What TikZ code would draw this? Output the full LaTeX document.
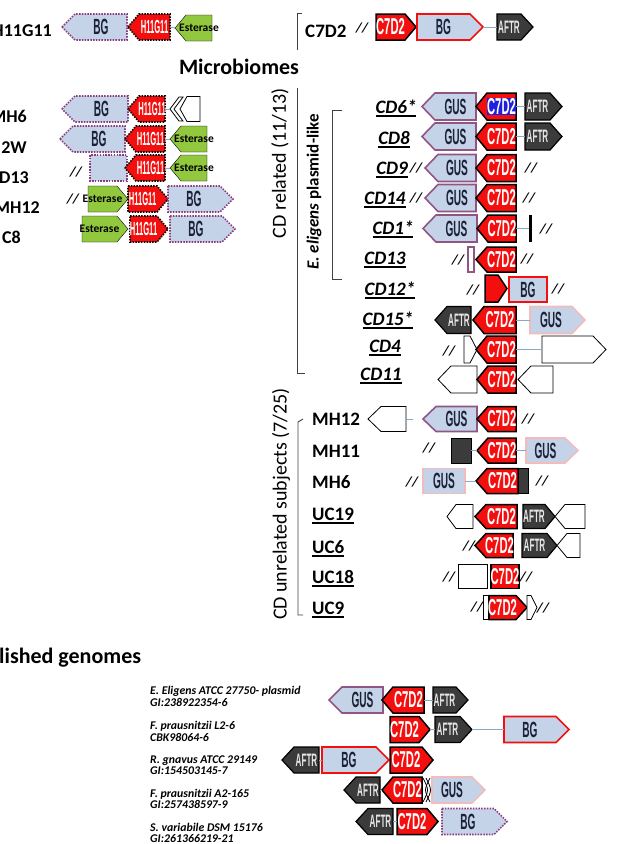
\documentclass[tikz,border=0pt]{standalone}
\usepackage{fontspec}
\setmainfont{Carlito}
\newfontfamily\genefont{Liberation Sans}
\definecolor{bgfill}{HTML}{C5D3E9}
\definecolor{cred}{HTML}{F40F0F}
\definecolor{dgray}{HTML}{3B3B3B}
\definecolor{egreen}{HTML}{92C83E}
\definecolor{purp}{HTML}{8A3C7C}
\definecolor{gusb}{HTML}{915584}
\definecolor{pinkb}{HTML}{F2BCBC}
\definecolor{navy}{HTML}{1B2238}
\definecolor{connc}{HTML}{86A9C6}
\definecolor{hlblue}{HTML}{1F1FE0}
\definecolor{aftrt}{HTML}{E6E6E6}
\definecolor{brk}{HTML}{404040}
\def\gsc{0.6}
\def\hh{13}
\newcommand\ul[1]{\leavevmode\vtop{\hbox{#1}\kern2.2pt\hrule height 1.3pt}}
% left-pointing gene: [tip]{name}{x1}{x2}{y}{style}{text}
\newcommand\gL[7][11]{%
  \draw[#6] (#3,#5) -- ({#3+#1},{#5-\hh}) -- (#4,{#5-\hh}) -- (#4,{#5+\hh}) -- ({#3+#1},{#5+\hh}) -- cycle;
  \node[gtext,#6T,minimum width={#4-#3},minimum height={2*\hh}] (#2) at ({(#3+#4)/2},#5) {\makebox[0pt]{\hspace*{#1pt}\scalebox{\gsc}[1]{#7}}};}
% right-pointing gene
\newcommand\gR[7][11]{%
  \draw[#6] (#3,{#5-\hh}) -- ({#4-#1},{#5-\hh}) -- (#4,#5) -- ({#4-#1},{#5+\hh}) -- (#3,{#5+\hh}) -- cycle;
  \node[gtext,#6T,minimum width={#4-#3},minimum height={2*\hh}] (#2) at ({(#3+#4)/2},#5) {\makebox[0pt]{\scalebox{\gsc}[1]{#7}\hspace*{#1pt}}};}
% rectangular gene
\newcommand\gN[6]{%
  \draw[#5] (#2,{#4-\hh}) rectangle (#3,{#4+\hh});
  \node[gtext,#5T,minimum width={#3-#2},minimum height={2*\hh}] (#1) at ({(#2+#3)/2},#4) {\makebox[0pt]{\scalebox{\gsc}[1]{#6}}};}
\tikzset{
  gtext/.style={inner sep=0pt, outer sep=0pt, font=\genefont\bfseries\fontsize{22}{22}\selectfont, /utils/exec={\def\gsc{0.46}}},
  bgdot/.style={fill=bgfill, draw=purp, line width=1.6pt, dash pattern=on 1.5pt off 1.3pt},
  bgdotT/.style={text=navy},
  bgred/.style={fill=bgfill, draw=cred, line width=1.6pt},
  bgredT/.style={text=navy},
  gus/.style={fill=bgfill, draw=gusb, line width=1.6pt},
  gusT/.style={text=navy},
  guspink/.style={fill=bgfill, draw=pinkb, line width=1.6pt},
  guspinkT/.style={text=navy},
  hdot/.style={fill=cred, draw=black, line width=1.6pt, dash pattern=on 1.5pt off 1.3pt},
  hdotT/.style={text=white, font=\genefont\bfseries\fontsize{19}{19}\selectfont, /utils/exec={\def\gsc{0.4}}},
  cr/.style={fill=cred, draw=black, line width=1.5pt},
  crT/.style={text=white, font=\genefont\bfseries\fontsize{23}{23}\selectfont, /utils/exec={\def\gsc{0.49}}},
  est/.style={fill=egreen},
  estT/.style={text=black, font=\bfseries\fontsize{11.5}{11.5}\selectfont, /utils/exec={\def\gsc{1}}},
  aftr/.style={fill=dgray, draw=black, line width=1.2pt},
  aftrT/.style={text=aftrt, font=\genefont\bfseries\fontsize{18}{18}\selectfont, /utils/exec={\def\gsc{0.45}}},
  wgene/.style={fill=white, draw=black, line width=0.8pt},
  wgeneT/.style={},
  wbox/.style={fill=white, draw=black, line width=0.8pt},
  wboxT/.style={},
  dbox/.style={fill=dgray, draw=black, line width=1pt},
  dboxT/.style={},
  purpbox/.style={fill=white, draw=gusb, line width=1.4pt},
  purpboxT/.style={},
  labL/.style={font=\bfseries\fontsize{18}{18}\selectfont, inner sep=0pt, anchor=base east},
  labR/.style={font=\bfseries\fontsize{19}{19}\selectfont, inner sep=0pt, anchor=base west},
  labCD/.style={font=\bfseries\itshape\fontsize{19}{19}\selectfont, inner sep=0pt, anchor=base},
  slash/.style={font=\bfseries\itshape\fontsize{14}{14}\selectfont, inner sep=0pt},
  publab/.style={font=\bfseries\itshape\fontsize{11.8}{11.8}\selectfont, inner sep=0pt, anchor=base west},
  head/.style={font=\bfseries\fontsize{22}{22}\selectfont, inner sep=0pt},
  vlab/.style={rotate=90, font=\fontsize{20}{20}\selectfont, inner sep=0pt},
  conn/.style={draw=connc, line width=0.9pt},
  brack/.style={draw=brk, line width=0.9pt},
}
\begin{document}
\begin{tikzpicture}[x=1pt,y=-1pt]
\useasboundingbox (0,0) rectangle (620,844);
% ---------------- top left
\node[labL] (lH) at (52,36) {H11G11};
\gL[13]{tBG}{62}{127}{27}{bgdot}{BG}
\gL{tH}{128}{170}{27}{hdot}{H11G11}
\gL{tE}{175}{212}{28}{est}{Esterase}
\draw[conn] (tH.east) -- (tE.west);
% ---------------- left rows
\node[labL] (lMH6) at (27,122) {MH6};
\gL[13]{aBG}{62}{128}{109}{bgdot}{BG}
\gL{aH}{128}{165}{109}{hdot}{H11G11}
\draw[wgene] (170,109) -- (179,97) -- (183,97) -- (174,109) -- (183,121) -- (179,121) -- cycle;
\coordinate (aCh) at (170,109);
\def\hh{12.5}
\gL[7]{aW}{180}{200}{109}{wgene}{}
\def\hh{13}
\draw[conn] (aH.east) -- (aCh);

\node[labL] (l2W) at (27,153) {2W};
\gL[13]{bBG}{60}{125}{139}{bgdot}{BG}
\gL{bH}{125}{165}{139}{hdot}{H11G11}
\gL{bE}{170}{207}{139}{est}{Esterase}
\draw[conn] (bH.east) -- (bE.west);

\node[labL] (lD13) at (29,183) {D13};
\node[slash] (sD13) at (76,172) {//};
\gN{cBG}{90}{127}{168}{bgdot}{}
\gL{cH}{125}{165}{168}{hdot}{H11G11}
\gL{cE}{170}{207}{168}{est}{Esterase}
\draw[conn] (cH.east) -- (cE.west);

\node[labL] (lMH12) at (40,213) {MH12};
\node[slash] (sMH12) at (73,199) {//};
\gR{dE}{88}{128}{199}{est}{Esterase}
\gR{dH}{128}{168}{199}{hdot}{H11G11}
\gR[13]{dBG}{168}{233}{199}{bgdot}{BG}

\node[labL] (lC8) at (21,243) {C8};
\gR{eE}{82}{128}{229}{est}{Esterase}
\gR{eH}{130}{168}{229}{hdot}{H11G11}
\gR[13]{eBG}{170}{235}{229}{bgdot}{BG}

% ---------------- top right
\draw[brack] (302,13) -- (297,13) -- (297,50);
\node[labR] (lC7) at (305,37) {C7D2};
\node[slash] (sC7) at (362,28) {//};
\gR{rC}{376}{416}{27}{cr}{C7D2}
\gR[13]{rBG}{417}{483}{27}{bgred}{BG}
\gR[12]{rA}{497}{533}{27}{aftr}{AFTR}
\draw[conn] (rBG.east) -- (rA.west);

\node[head] (hMicro) at (239,67) {Microbiomes};

% ---------------- brackets & vertical labels
\draw[brack] (297,88) -- (297,373) -- (305,373);
\node[vlab] (vCD) at (280,163) {CD related (11/13)};
\draw[brack] (342,110) -- (332,110) -- (332,279) -- (342,279);
\node[vlab, font=\bfseries\fontsize{17}{17}\selectfont] (vEel) at (314,192) {\textit{E. eligens} plasmid-like};
\draw[brack] (303,419) -- (298,422) -- (298,615) -- (303,615);
\node[vlab] (vUn) at (281,504) {CD unrelated subjects (7/25)};

% ---------------- CD rows
\def\hh{13.5}
\node[labCD] (lCD6) at (396,113) {\ul{CD6*}};
\gL[13]{g6G}{422}{476}{106.5}{gus}{GUS}
\gL{g6C}{476}{516}{106.5}{cr}{{\setlength{\fboxsep}{0.6pt}\colorbox{hlblue}{C7D2}}}
\gR[12]{g6A}{525}{562}{106.5}{aftr}{AFTR}
\draw[conn] (g6C.east) -- (g6A.west);

\node[labCD] (lCD8) at (394,144) {\ul{CD8}};
\gL[13]{g8G}{422}{476}{136.5}{gus}{GUS}
\gL{g8C}{476}{516}{136.5}{cr}{C7D2}
\gR[12]{g8A}{525}{562}{136.5}{aftr}{AFTR}
\draw[conn] (g8C.east) -- (g8A.west);

\node[labCD] (lCD9) at (392,174) {\ul{CD9}};
\node[slash] (sCD9a) at (416,168) {//};
\gL[13]{g9G}{425}{476}{168}{gus}{GUS}
\gL{g9C}{476}{516}{168}{cr}{C7D2}
\node[slash] (sCD9b) at (531,168) {//};

\node[labCD] (lCD14) at (385,204) {\ul{CD14}};
\node[slash] (sCD14a) at (416,198) {//};
\gL[13]{g14G}{425}{476}{198}{gus}{GUS}
\gL{g14C}{476}{516}{198}{cr}{C7D2}
\node[slash] (sCD14b) at (529,198) {//};

\node[labCD] (lCD1) at (393,234) {\ul{CD1*}};
\gL[13]{g1G}{423}{477}{228.5}{gus}{GUS}
\gL{g1C}{477}{516}{228.5}{cr}{C7D2}
\node[fill=black, inner sep=0pt, minimum width=3pt, minimum height=27pt] (g1B) at (530.5,228.5) {};
\draw[conn] (g1C.east) -- (g1B.west);
\node[slash] (sCD1) at (546,229) {//};

\node[labCD] (lCD13) at (385,264) {\ul{CD13}};
\node[slash] (sCD13a) at (458,260) {//};
\def\hh{12.5}
\gN{g13P}{468}{474}{259.5}{purpbox}{}
\gL{g13C}{476}{516}{259.5}{cr}{C7D2}
\node[slash] (sCD13b) at (527,259) {//};
\def\hh{13.5}

\node[labCD] (lCD12) at (390,295) {\ul{CD12*}};
\node[slash] (sCD12a) at (473,290) {//};
\gR[9]{g12C}{485}{507}{288.5}{cr}{}
\def\hh{12.5}
\gN{g12B}{509}{547}{289.5}{bgred}{BG}
\def\hh{13.5}
\node[slash] (sCD12b) at (558,289) {//};

\node[labCD] (lCD15) at (388,325) {\ul{CD15*}};
\gL[12]{g15A}{435}{471}{320}{aftr}{AFTR}
\gL{g15C}{473}{516}{320}{cr}{C7D2}
\gR[13]{g15G}{530}{585}{320}{guspink}{GUS}
\draw[conn] (g15C.east) -- (g15G.west);

\node[labCD] (lCD4) at (385,352) {\ul{CD4}};
\node[slash] (sCD4) at (449,351) {//};
\gR[7]{g4W}{464}{477}{349.5}{wgene}{}
\gL{g4C}{476}{516}{349.5}{cr}{C7D2}
\gR[13]{g4W2}{542}{606}{349.5}{wgene}{}
\draw[conn] (g4C.east) -- (g4W2.west);

\node[labCD] (lCD11) at (381,380) {\ul{CD11}};
\gL[13]{g11W}{438}{477}{379.5}{wgene}{}
\gL{g11C}{477}{516}{379.5}{cr}{C7D2}
\gL[13]{g11W2}{518}{553}{379.5}{wgene}{}

% ---------------- MH rows
\def\hh{12.5}
\node[labR] (rMH12) at (312,425) {MH12};
\gL[13]{m12W}{368}{406}{419}{wgene}{}
\coordinate (m12e) at (413,419);
\draw[conn] (m12W.east) -- (m12e);
\gL[13]{m12G}{423}{477}{419}{gus}{GUS}
\gL{m12C}{477}{516}{419}{cr}{C7D2}
\node[slash] (sMH12r) at (528,419) {//};

\node[labR] (rMH11) at (312,457) {MH11};
\node[slash] (sMH11) at (429,448) {//};
\gN{m11D}{451}{471}{450.5}{dbox}{}
\gL{m11C}{477}{516}{450.5}{cr}{C7D2}
\gR[13]{m11G}{526}{578}{450.5}{guspink}{GUS}
\draw[conn] (m11D.east) -- (m11C.west);
\draw[conn] (m11C.east) -- (m11G.west);

\node[labR] (rMH6) at (312,488) {MH6};
\node[slash] (sMH6a) at (412,482) {//};
\gN{m6G}{423}{465}{481}{guspink}{GUS}
\gL{m6C}{476}{518}{481}{cr}{C7D2}
\gN{m6D}{518}{528}{481}{dbox}{}
\draw[conn] (m6G.east) -- (m6C.west);
\node[slash] (sMH6b) at (542,481) {//};

% ---------------- UC rows
\def\hh{12}
\node[labR] (rUC19) at (312,520) {\ul{UC19}};
\gL[9]{u19W}{447}{473}{516.5}{wgene}{}
\gL{u19C}{475}{517}{516.5}{cr}{C7D2}
\gR[10]{u19A}{523}{555}{516.5}{aftr}{AFTR}
\gL[10]{u19W2}{555}{585}{516.5}{wgene}{}

\node[labR] (rUC6) at (312,553) {\ul{UC6}};
\node[slash] (sUC6) at (469,546) {//};
\gL{u6C}{475}{513}{545.5}{cr}{C7D2}
\gR[10]{u6A}{522}{557}{545.5}{aftr}{AFTR}
\gL[10]{u6W}{557}{580}{545.5}{wgene}{}

\node[labR] (rUC18) at (312,583) {\ul{UC18}};
\node[slash] (sUC18a) at (449,577) {//};
\gN{u18W}{458}{487}{576.5}{wbox}{}
\gN{u18C}{491}{519}{576.5}{cr}{C7D2}
\node[slash] (sUC18b) at (526,577) {//};

\node[labR] (rUC9) at (312,614) {\ul{UC9}};
\node[slash] (sUC9a) at (477,607) {//};
\gN{u9T}{483}{488}{607.5}{wbox}{}
\gR{u9C}{489}{527}{607.5}{cr}{C7D2}
\gR[6]{u9W}{527}{537}{607.5}{wgene}{}
\node[slash] (sUC9b) at (543,608) {//};

% ---------------- published genomes
\node[head, anchor=base west] (hPub) at (-1,663) {lished genomes};
\node[publab] (p1a) at (150,694) {E. Eligens ATCC 27750- plasmid};
\node[publab] (p1b) at (150,706) {GI:238922354-6};
\node[publab] (p2a) at (150,729) {F. prausnitzii L2-6};
\node[publab] (p2b) at (150,741) {CBK98064-6};
\node[publab] (p3a) at (150,763) {R. gnavus ATCC 29149};
\node[publab] (p3b) at (150,774) {GI:154503145-7};
\node[publab] (p4a) at (150,797) {F. prausnitzii A2-165};
\node[publab] (p4b) at (150,808) {GI:257438597-9};
\node[publab] (p5a) at (150,831) {S. variabile DSM 15176};
\node[publab] (p5b) at (150,842) {GI:261366219-21};

\def\hh{13}
\gL[13]{p1G}{329}{383}{700}{gus}{GUS}
\gL{p1C}{382}{424}{700}{cr}{C7D2}
\gR[12]{p1A}{433}{468}{700}{aftr}{AFTR}
\draw[conn] (p1C.east) -- (p1A.west);

\gR{p2C}{390}{430}{729.5}{cr}{C7D2}
\gR[12]{p2A}{435}{472}{729.5}{aftr}{AFTR}
\gR[13]{p2B}{504}{569}{729.5}{bgred}{BG}
\draw[conn] (p2C.east) -- (p2A.west);
\draw[conn] (p2A.east) -- (p2B.west);

\gL[12]{p3A}{282}{319}{760}{aftr}{AFTR}
\gR[13]{p3B}{322}{389}{760}{bgred}{BG}
\gR{p3C}{390}{433}{760}{cr}{C7D2}
\draw[conn] (p3A.east) -- (p3B.west);

\gL[12]{p4A}{344}{380}{790}{aftr}{AFTR}
\gL{p4C}{382}{422}{790}{cr}{C7D2}
\draw[line width=0.8pt] (423,778) .. controls (429,790) .. (423,802);
\draw[line width=0.8pt] (426,778) .. controls (432,790) .. (426,802);
\draw[line width=0.8pt] (430,778) .. controls (424,790) .. (430,802);
\gR[13]{p4G}{432}{485}{790}{guspink}{GUS}
\draw[conn] (p4A.east) -- (p4C.west);

\gL[12]{p5A}{356}{393}{821.5}{aftr}{AFTR}
\gR{p5C}{397}{438}{821.5}{cr}{C7D2}
\gR[13]{p5B}{442}{507}{821.5}{bgdot}{BG}
\draw[conn] (p5A.east) -- (p5C.west);
\end{tikzpicture}
\end{document}
